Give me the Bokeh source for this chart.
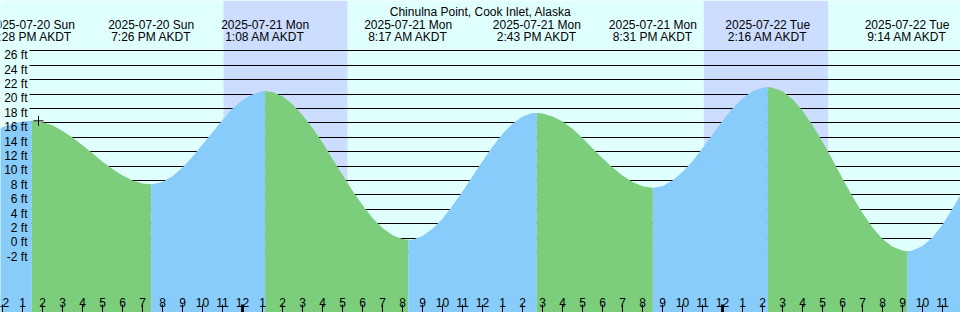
from datetime import datetime
from bokeh.plotting import figure
from bokeh.models import Range1d
from bokeh.embed import file_html
from bokeh.resources import INLINE
from bokeh.core.properties import value

# ---------------- data ----------------
title = "Chinulna Point, Cook Inlet, Alaska"
event_times = ["2025-07-20 13:28", "2025-07-20 19:26", "2025-07-21 01:08", "2025-07-21 08:17",
               "2025-07-21 14:43", "2025-07-21 20:31", "2025-07-22 02:16", "2025-07-22 09:14"]
event_ft = [16.3, 7.5, 20.4, -0.2, 17.4, 7.0, 21.0, -1.8]
event_dates = ["2025-07-20 Sun", "2025-07-20 Sun", "2025-07-21 Mon", "2025-07-21 Mon",
               "2025-07-21 Mon", "2025-07-21 Mon", "2025-07-22 Tue", "2025-07-22 Tue"]
event_clock = ["1:28 PM AKDT", "7:26 PM AKDT", "1:08 AM AKDT", "8:17 AM AKDT",
               "2:43 PM AKDT", "8:31 PM AKDT", "2:16 AM AKDT", "9:14 AM AKDT"]

# tide height read every half hour, starting 2025-07-20 11:00
series_start = "2025-07-20 11:00"
series_step_h = 0.5
series_ft = [13.6, 14.6, 15.4, 15.9, 16.2, 16.3, 16.1, 15.7, 14.9, 14.0,
             12.9, 11.8, 10.6, 9.6, 8.7, 8.0, 7.6, 7.5, 7.8, 8.6,
             9.8, 11.3, 13.0, 14.7, 16.4, 18.0, 19.2, 20.0, 20.4, 20.3,
             19.7, 18.6, 17.1, 15.3, 13.3, 11.0, 8.8, 6.6, 4.6, 2.8,
             1.4, 0.4, -0.1, -0.2, 0.3, 1.3, 2.7, 4.5, 6.5, 8.6,
             10.7, 12.7, 14.5, 15.9, 16.9, 17.4, 17.3, 16.9, 16.2, 15.2,
             13.9, 12.5, 11.1, 9.8, 8.7, 7.8, 7.2, 7.0, 7.2, 8.0,
             9.2, 10.7, 12.5, 14.4, 16.3, 18.0, 19.4, 20.4, 20.9, 20.9,
             20.4, 19.3, 17.7, 15.7, 13.4, 10.9, 8.3, 5.8, 3.5, 1.5,
             -0.1, -1.2, -1.7, -1.7, -1.1, 0.1, 1.9, 4.1, 6.5]

night_start = ["2025-07-20 23:03", "2025-07-21 23:04"]
night_end = ["2025-07-21 05:15", "2025-07-22 05:17"]

marker_time = "2025-07-20 13:48"
marker_ft = 16.3

y_ticks_ft = [-2, 0, 2, 4, 6, 8, 10, 12, 14, 16, 18, 20, 22, 24, 26]

view_start = "2025-07-20 11:54:00"
view_end = "2025-07-22 11:54:00"
y_top, y_bot = 33.01, -10.32

# ---------------- helpers ----------------
REF = datetime(2025, 7, 21)


def hrs(s):
    fmt = "%Y-%m-%d %H:%M:%S" if s.count(":") == 2 else "%Y-%m-%d %H:%M"
    return (datetime.strptime(s, fmt) - REF).total_seconds() / 3600.0


W, H = 960, 312
x_start, x_end = hrs(view_start), hrs(view_end)


def px_x(px):
    return x_start + px * (x_end - x_start) / W


def py_of(ft):
    return (y_top - ft) * H / (y_top - y_bot)


def px_y(py):
    return y_top - py * (y_top - y_bot) / H


def snap_y(ft):
    return px_y(float(round(py_of(ft))))


FONT = value("Liberation Sans")
BG = "#E0FFFF"
NIGHT = "#CCDDFF"
BLUE = "#87CCFA"
GREEN = "#7CCD7C"

ev_h = [hrs(t) for t in event_times]
s0 = hrs(series_start)
series_h = [s0 + i * series_step_h for i in range(len(series_ft))]

pts = sorted(list(zip(series_h, series_ft)) + list(zip(ev_h, event_ft)))

# ---------------- figure ----------------
p = figure(width=W, height=H, output_backend="svg", toolbar_location=None,
           x_axis_location=None, y_axis_location=None,
           x_range=Range1d(x_start, x_end), y_range=Range1d(y_bot, y_top),
           min_border=0, tools="")
p.background_fill_color = BG
p.border_fill_color = BG
p.outline_line_color = None
p.grid.visible = False

# night bands
p.quad(left=[hrs(s) for s in night_start], right=[hrs(s) for s in night_end],
       bottom=y_bot, top=y_top, fill_color=NIGHT, line_color=None)

# horizontal lines
gy = [snap_y(v) for v in y_ticks_ft]
p.segment(x0=px_x(29), x1=x_end, y0=gy, y1=gy, line_color="black", line_width=1)

# tide fill segments: green while falling, blue while rising
bounds = [pts[0][0]] + ev_h + [pts[-1][0]]
bh = [pts[0][1]] + event_ft + [pts[-1][1]]
for i in range(len(bounds) - 1):
    a, b = bounds[i], bounds[i + 1]
    seg = [(h, f) for h, f in pts if a - 1e-9 <= h <= b + 1e-9]
    col = GREEN if bh[i + 1] < bh[i] else BLUE
    p.varea(x=[s[0] for s in seg], y1=y_bot, y2=[s[1] for s in seg], fill_color=col)

# y labels
p.text(x=px_x(27), y=[px_y(py_of(v) + 4.2) for v in y_ticks_ft],
       text=[f"{v} ft" for v in y_ticks_ft], text_font=FONT, text_font_size="12px",
       text_align="right", text_baseline="alphabetic", text_color="black")

# hour ticks along the bottom
first_tick = int(-(-x_start // 1))
tick_h = list(range(first_tick, int(x_end // 1) + 1))
tick_lbl = [str((h % 12) or 12) for h in tick_h]
norm = [h for h in tick_h if h % 24 != 0]
mid = [h for h in tick_h if h % 24 == 0]
p.segment(x0=norm, x1=norm, y0=px_y(304), y1=y_bot, line_color="black", line_width=1)
p.segment(x0=mid, x1=mid, y0=px_y(304), y1=y_bot, line_color="black", line_width=3)
p.text(x=tick_h, y=px_y(301.5), text=tick_lbl, text_font=FONT, text_font_size="12px",
       text_align="center", text_baseline="alphabetic", text_color="black")

# header
p.text(x=[(x_start + x_end) / 2], y=[px_y(11)], text=[title], text_font=FONT,
       text_font_size="12px", text_align="center", text_baseline="alphabetic", text_color="black")
p.text(x=ev_h, y=px_y(24.3), text=event_dates, text_font=FONT, text_font_size="12px",
       text_align="center", text_baseline="alphabetic", text_color="black")
p.text(x=ev_h, y=px_y(36.5), text=event_clock, text_font=FONT, text_font_size="12px",
       text_align="center", text_baseline="alphabetic", text_color="black")

# marker
p.scatter(x=[hrs(marker_time)], y=[marker_ft], marker="cross", size=10,
          line_color="black", line_width=1)

open("out.html", "w").write(file_html(p, INLINE))
